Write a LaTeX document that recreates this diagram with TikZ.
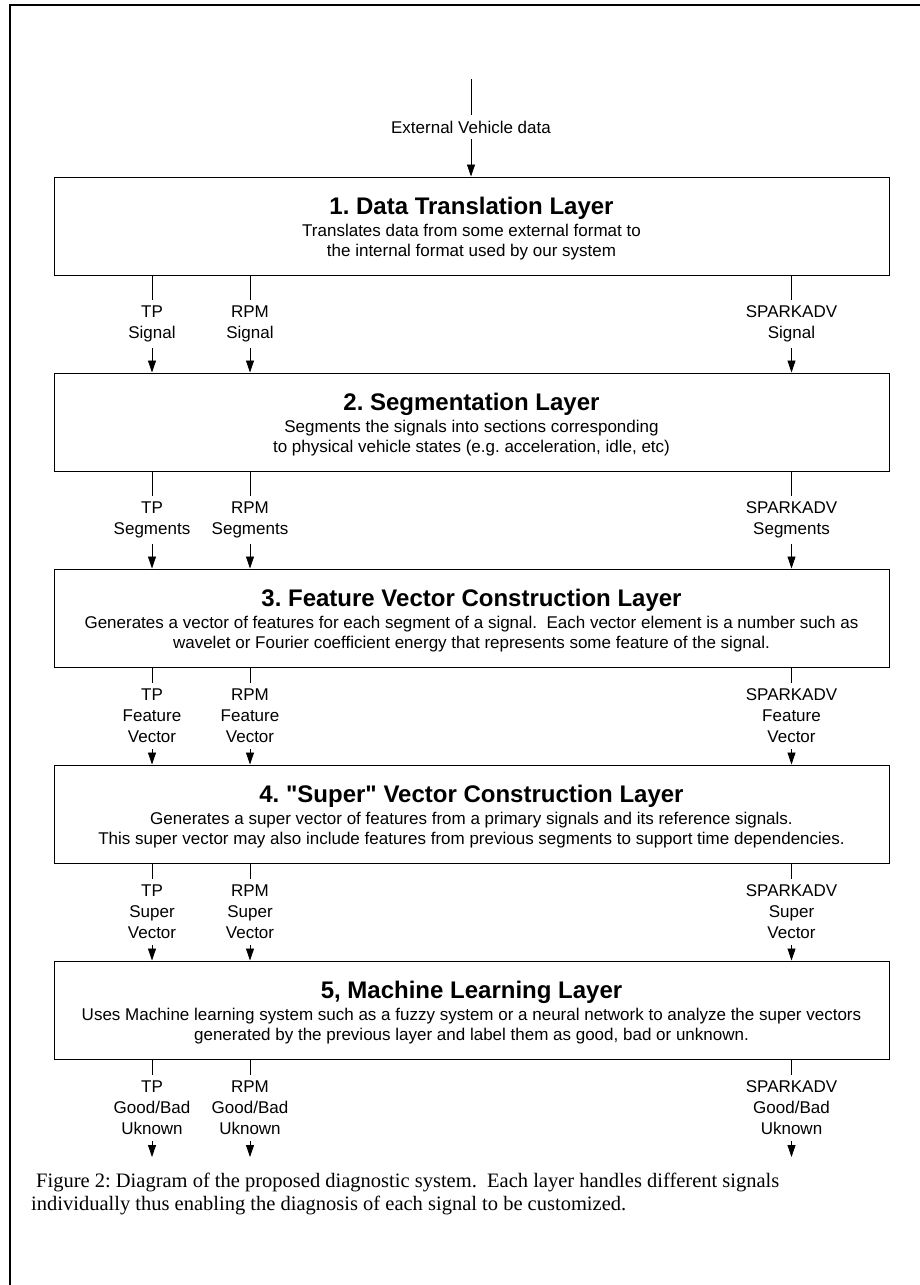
\documentclass[tikz,border=0pt]{standalone}
\usepackage{fontspec}
\setmainfont{Liberation Serif}
\setsansfont{Liberation Sans}[Ligatures=TeXOff]
\usetikzlibrary{arrows.meta}
\frenchspacing

\tikzset{
    layer/.style={draw, line width=1pt, minimum width=835pt, minimum height=98pt, inner sep=0pt},
    ltitle/.style={font=\sffamily\bfseries\fontsize{24}{28}\selectfont, text height=17.2pt, text depth=0pt, inner sep=0pt},
    ldesc/.style={font=\sffamily\fontsize{17}{20}\selectfont, align=center, inner sep=0pt},
    sig/.style={font=\sffamily\fontsize{17}{21}\selectfont, align=center, inner xsep=0pt, inner ysep=6pt},
    tap/.style={line width=0.8pt},
    flow/.style={tap, -{Triangle[length=12pt,width=8pt]}}
}

\begin{document}
\begin{tikzpicture}[x=1pt, y=-1pt]
            \useasboundingbox (0,0) rectangle (920,1285);
            \draw[line width=1.7pt] (920,5) -- (10,5) -- (10,1285);
            % layers
            \foreach \n/\ttl/\dsc in {
                1/{1. Data Translation Layer}/{Translates data from some external format to\\the internal format used by our system},
                2/{2. Segmentation Layer}/{Segments the signals into sections corresponding\\to physical vehicle states (e.g. acceleration, idle, etc)},
                3/{3. Feature Vector Construction Layer}/{Generates a vector of features for each segment of a signal.\ \ Each vector element is a number such as\\wavelet or Fourier coefficient energy that represents some feature of the signal.},
                4/{4. "Super" Vector Construction Layer}/{Generates a super vector of features from a primary signals and its reference signals.\\This super vector may also include features from previous segments to support time dependencies.},
                5/{5, Machine Learning Layer}/{Uses Machine learning system such as a fuzzy system or a neural network to analyze the super vectors\\generated by the previous layer and label them as good, bad or unknown.}}{
                \pgfmathsetmacro\ytop{177+196*(\n-1)}
                \node[layer] (L\n) at (471.5,\ytop+49) {};
                \coordinate (In\n) at (L\n.north);
                \node[ltitle] (T\n) at ([yshift=-29pt]L\n.north) {\ttl};
                \node[ldesc] (D\n) at ([yshift=-65.5pt]L\n.north) {\dsc};
            }
            \coordinate (In6) at (471.5,1157);
            % input
            \coordinate (src) at (471,79);
            \node[sig] (ext) at (471,127) {External Vehicle data};
            \draw[tap] (src) -- (ext.north);
            \draw[flow] (ext.south) -- (ext.south |- In1);
            % signals between the layers
            \foreach \r/\kind in {1/{Signal}, 2/{Segments}, 3/{Feature\\Vector}, 4/{Super\\Vector}, 5/{Good/Bad\\Uknown}}{
                \pgfmathsetmacro\ymid{324+196*(\r-1)}
                \pgfmathtruncatemacro\nx{\r+1}
                \foreach \sname/\sx in {TP/152, RPM/250, SPARKADV/791.5}{
                    \node[sig] (S\r\sname) at (\sx,\ymid) {\sname\\\kind};
                    \draw[tap] (S\r\sname.north |- L\r.south) -- (S\r\sname.north);
                    \draw[flow] (S\r\sname.south) -- (S\r\sname.south |- In\nx);
                }
            }
            \node[font=\rmfamily\fontsize{20.5}{23}\selectfont, align=left, anchor=north west, inner sep=0pt] (cap) at (31,1173)
                {\hspace*{5pt}Figure 2: Diagram of the proposed diagnostic system.\ \ Each layer handles different signals\\individually thus enabling the diagnosis of each signal to be customized.};
\end{tikzpicture}
\end{document}
